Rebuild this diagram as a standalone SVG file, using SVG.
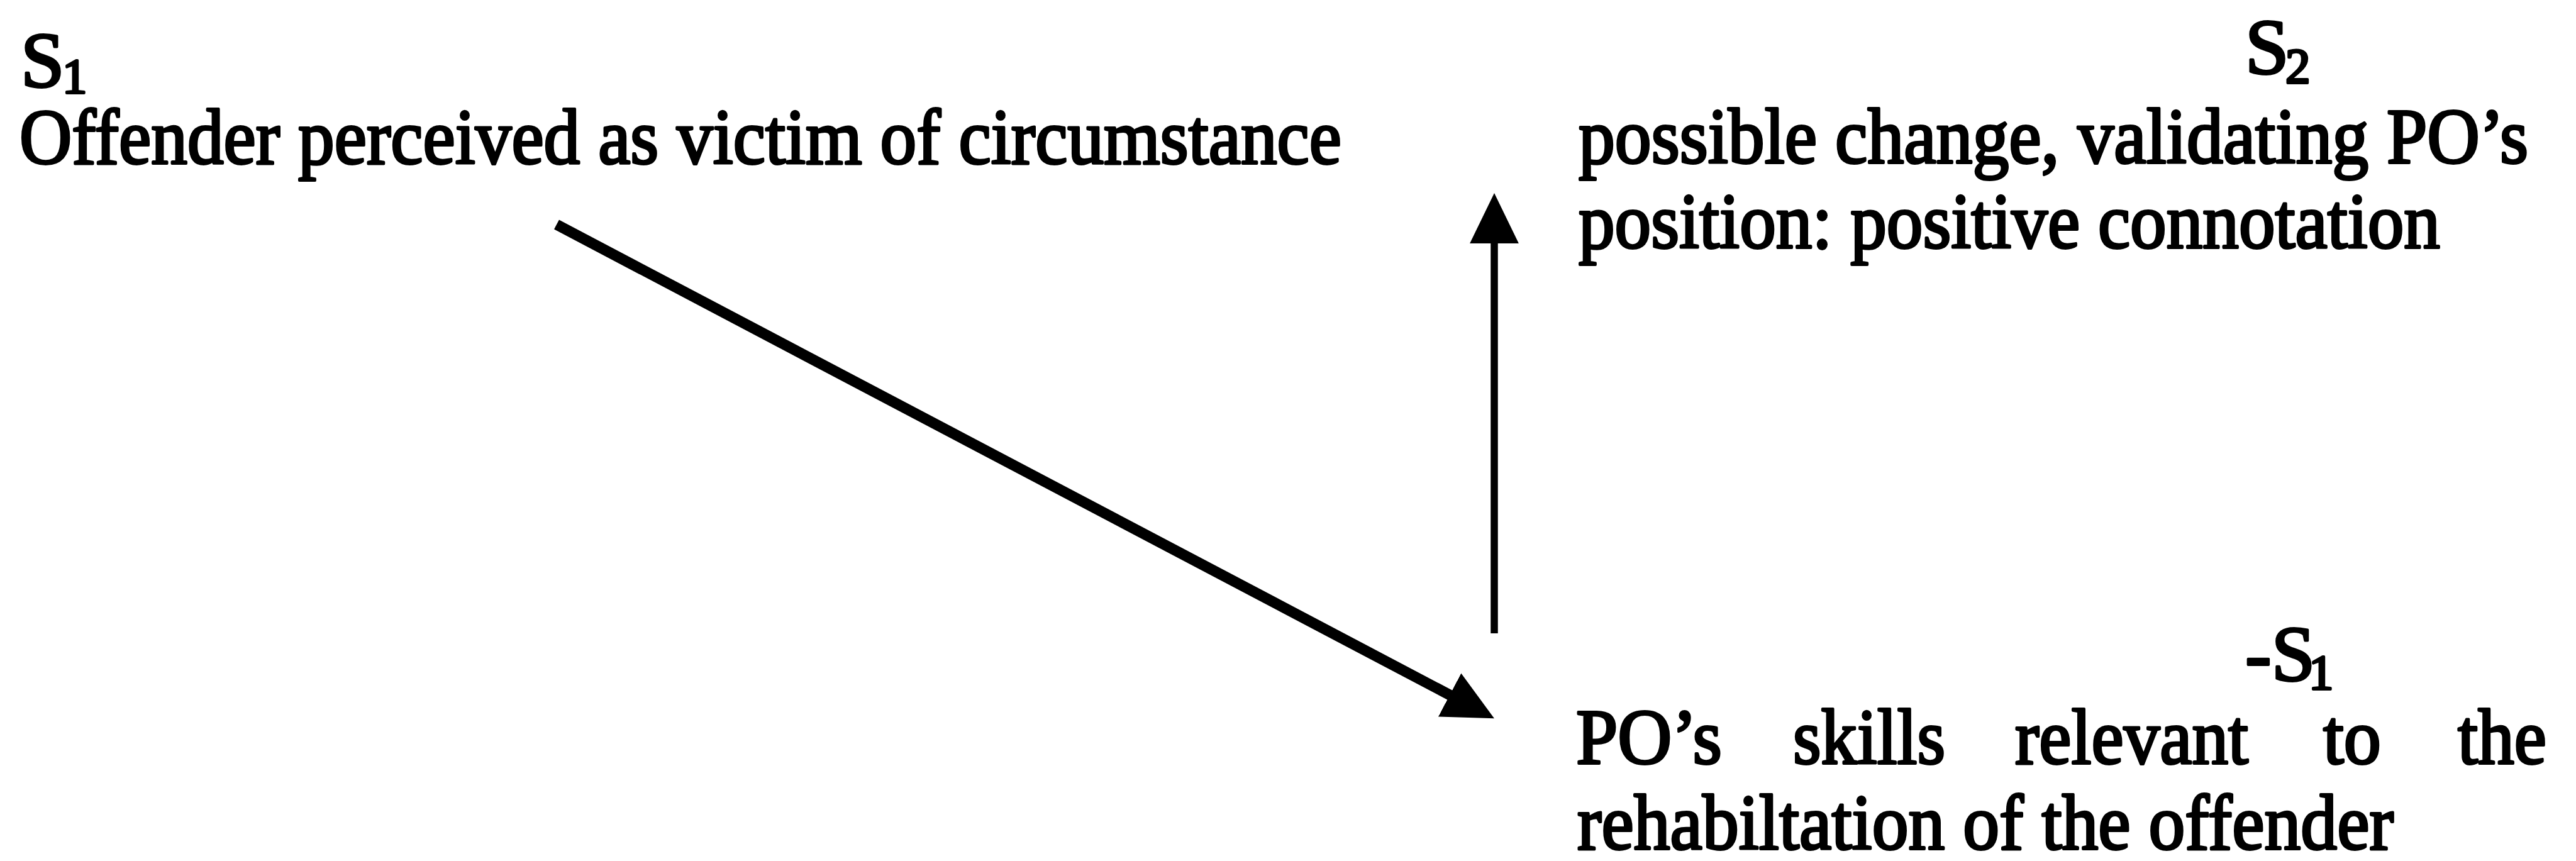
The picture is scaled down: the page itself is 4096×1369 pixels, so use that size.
<svg xmlns="http://www.w3.org/2000/svg" width="4096" height="1369" viewBox="0 0 4096 1369">
<style>
.t{font-family:"Liberation Serif","Times New Roman",serif;font-size:125px;fill:#000;stroke:#000;stroke-width:4px;stroke-linejoin:round;}
.sub{font-size:79px;}
.c{fill:none;stroke:#000;}
</style>
<defs>
<marker id="ah" markerUnits="userSpaceOnUse" markerWidth="80" markerHeight="80" viewBox="0 0 76 74" refX="2" refY="37" orient="auto">
<path d="M0,0 L76,37 L0,74 z" fill="#000"/>
</marker>
</defs>
<rect width="4096" height="1369" fill="#fff"/>
<g id="connectors">
<line class="c" x1="885" y1="357" x2="2307" y2="1106" stroke-width="17" marker-end="url(#ah)"/>
<line class="c" x1="2376" y1="1007" x2="2376" y2="385" stroke-width="11.5" marker-end="url(#ah)"/>
</g>
<g id="node-s1">
<text class="t" x="33" y="138">S<tspan class="sub" x="99" y="147">1</tspan></text>
<text class="t" x="31" y="260" textLength="2102" lengthAdjust="spacingAndGlyphs">Offender perceived as victim of circumstance</text>
</g>
<g id="node-s2">
<text class="t" x="3570" y="117">S<tspan class="sub" x="3634" y="131">2</tspan></text>
<text class="t" x="2510" y="259" textLength="1510" lengthAdjust="spacingAndGlyphs">possible change, validating PO’s</text>
<text class="t" x="2510" y="394" textLength="1370" lengthAdjust="spacingAndGlyphs">position: positive connotation</text>
</g>
<g id="node-neg-s1">
<text class="t" x="3570" y="1082">-S<tspan class="sub" x="3671" y="1095">1</tspan></text>
<text class="t" x="2506" y="1214" textLength="232" lengthAdjust="spacingAndGlyphs">PO’s</text>
<text class="t" x="2851" y="1214" textLength="242" lengthAdjust="spacingAndGlyphs">skills</text>
<text class="t" x="3204" y="1214" textLength="371" lengthAdjust="spacingAndGlyphs">relevant</text>
<text class="t" x="3694" y="1214" textLength="92" lengthAdjust="spacingAndGlyphs">to</text>
<text class="t" x="3908" y="1214" textLength="141" lengthAdjust="spacingAndGlyphs">the</text>
<text class="t" x="2508" y="1350" textLength="1298" lengthAdjust="spacingAndGlyphs">rehabiltation of the offender</text>
</g>
</svg>
